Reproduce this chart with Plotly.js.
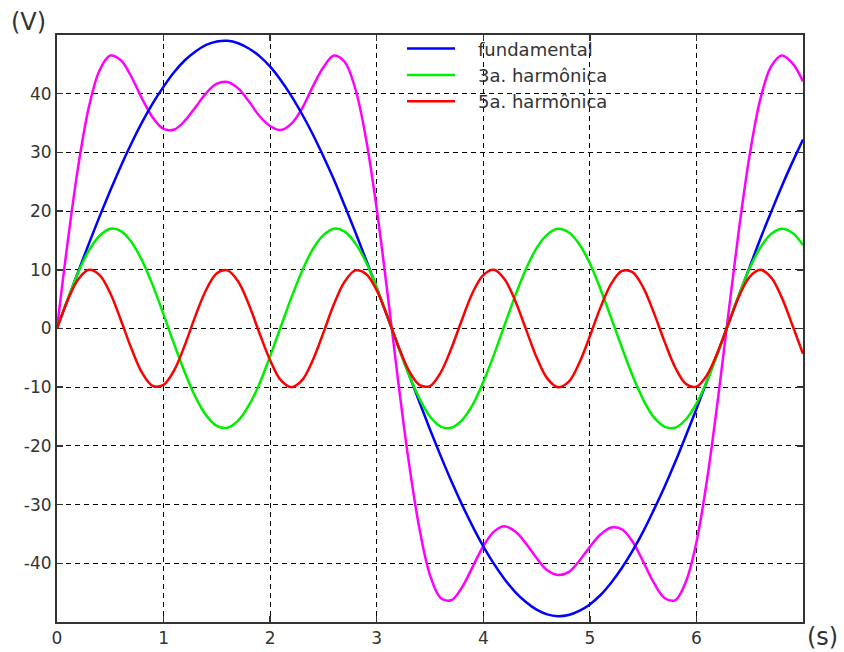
<!DOCTYPE html>
<html>
<head>
<meta charset="utf-8">
<script src="https://cdn.plot.ly/plotly-3.0.1.min.js"></script>
<style>html,body{margin:0;padding:0;background:#fff;}#chart{width:844px;height:652px;}</style>
</head>
<body>
<div id="chart"></div>
<script>
// time samples (s)
var t = [0.0,0.1,0.2,0.3,0.4,0.5,0.6,0.7,0.8,0.9,1.0,1.1,1.2,1.3,1.4,1.5,1.6,1.7,1.8,1.9,2.0,2.1,2.2,2.3,2.4,2.5,2.6,2.7,2.8,2.9,3.0,3.1,3.2,3.3,3.4,3.5,3.6,3.7,3.8,3.9,4.0,4.1,4.2,4.3,4.4,4.5,4.6,4.7,4.8,4.9,5.0,5.1,5.2,5.3,5.4,5.5,5.6,5.7,5.8,5.9,6.0,6.1,6.2,6.3,6.4,6.5,6.6,6.7,6.8,6.9,7.0];

var fundamental = [0,4.9,9.7,14.5,19.1,23.5,27.7,31.6,35.2,38.4,41.2,43.7,45.7,47.2,48.3,48.9,49.0,48.6,47.7,46.4,44.6,42.3,39.6,36.5,33.1,29.3,25.3,20.9,16.4,11.7,6.9,2.0,-2.9,-7.7,-12.5,-17.2,-21.7,-26.0,-30.0,-33.7,-37.1,-40.1,-42.7,-44.9,-46.6,-47.9,-48.7,-49.0,-48.8,-48.1,-47.0,-45.4,-43.3,-40.8,-37.9,-34.6,-30.9,-27.0,-22.8,-18.3,-13.7,-8.9,-4.1,0.8,5.7,10.5,15.3,19.8,24.2,28.3,32.2];

var harm3 = [0,5.0,9.6,13.3,15.8,17.0,16.6,14.7,11.5,7.3,2.4,-2.7,-7.5,-11.7,-14.8,-16.6,-16.9,-15.7,-13.1,-9.4,-4.7,0.3,5.3,9.8,13.5,15.9,17.0,16.5,14.5,11.3,7.0,2.1,-3.0,-7.8,-11.9,-15.0,-16.7,-16.9,-15.6,-13.0,-9.1,-4.5,0.6,5.6,10.1,13.7,16.0,17.0,16.4,14.4,11.1,6.7,1.8,-3.2,-8.0,-12.1,-15.1,-16.7,-16.9,-15.5,-12.8,-8.9,-4.2,0.9,5.8,10.3,13.8,16.1,17.0,16.3,14.2];

var harm5 = [0,4.8,8.4,10.0,9.1,6.0,1.4,-3.5,-7.6,-9.8,-9.6,-7.1,-2.8,2.2,6.6,9.4,9.9,8.0,4.1,-0.8,-5.4,-8.8,-10.0,-8.8,-5.4,-0.7,4.2,8.0,9.9,9.3,6.5,2.1,-2.9,-7.1,-9.6,-9.8,-7.5,-3.4,1.5,6.1,9.1,10.0,8.4,4.7,-0.1,-4.9,-8.5,-10.0,-9.1,-5.9,-1.3,3.6,7.6,9.8,9.6,7.0,2.7,-2.2,-6.6,-9.4,-9.9,-7.9,-4.0,0.8,5.5,8.8,10.0,8.7,5.3,0.6,-4.3];

var total = [0,14.7,27.7,37.8,44.0,46.5,45.7,42.8,39.1,35.9,34.0,33.9,35.4,37.7,40.1,41.7,42.0,40.9,38.7,36.2,34.5,33.8,34.9,37.5,41.2,44.5,46.5,45.4,40.8,32.3,20.4,6.2,-8.8,-22.6,-34.0,-42.0,-45.9,-46.3,-44.1,-40.6,-37.1,-34.6,-33.7,-34.6,-36.6,-39.1,-41.2,-42.0,-41.5,-39.6,-37.2,-35.1,-33.9,-34.2,-36.3,-39.7,-43.3,-45.9,-46.3,-43.2,-36.4,-25.7,-12.3,2.5,17.0,29.6,39.1,44.6,46.5,45.2,42.1];

var seriesNames = ['fundamental','3a. harmônica','5a. harmônica'];
var xTicks = [0,1,2,3,4,5,6];
var yTicks = [-40,-30,-20,-10,0,10,20,30,40];

var FONT = 'DejaVu Sans, Verdana, sans-serif';
var LW = 2.5;
var GAP = '\u2003'; // visual gap between legend line and label

var traces = [
  {x:t, y:total, mode:'lines', line:{color:'#ff00ff', width:LW, shape:'spline'}, showlegend:false, hoverinfo:'skip'},
  {x:t, y:fundamental, mode:'lines', name:GAP + seriesNames[0], line:{color:'#0000ff', width:LW, shape:'spline'}},
  {x:t, y:harm3, mode:'lines', name:GAP + seriesNames[1], line:{color:'#00ee00', width:LW, shape:'spline'}},
  {x:t, y:harm5, mode:'lines', name:GAP + seriesNames[2], line:{color:'#ff0000', width:LW, shape:'spline'}}
];

var axisCommon = {
  showline:true, linecolor:'#333', linewidth:2, mirror:'ticks',
  ticks:'inside', ticklen:6, tickcolor:'#333', tickwidth:1.5,
  showgrid:true, gridcolor:'#000', gridwidth:1, griddash:'5px,4px',
  zeroline:false, tickfont:{family:FONT, size:17, color:'#333'}
};

var layout = {
  width:844, height:652,
  margin:{l:57, r:41, t:35, b:30},
  paper_bgcolor:'#fff', plot_bgcolor:'#fff',
  font:{family:FONT, color:'#333'},
  xaxis: Object.assign({}, axisCommon, {range:[0,7], tickvals:xTicks, ticktext:xTicks.map(String), ticklabelstandoff:0}),
  yaxis: Object.assign({}, axisCommon, {range:[-50,50], tickvals:yTicks, ticktext:yTicks.map(String), ticklabelstandoff:0}),
  legend:{x:0.4625, y:1.008, xanchor:'left', yanchor:'top', bgcolor:'rgba(255,255,255,0)', borderwidth:0,
          font:{family:FONT, size:18, color:'#333'}, traceorder:'normal', itemwidth:48},
  shapes:[
    // white backing behind the legend, hides grid lines only
    {type:'rect', layer:'between', xref:'paper', yref:'paper', x0:0.463, x1:0.757, y0:0.862, y1:1,
     fillcolor:'#fff', line:{width:0}}
  ],
  annotations:[
    {text:'(V)', xref:'paper', yref:'paper', x:-0.038, y:1.022, xanchor:'center', yanchor:'middle', showarrow:false, font:{family:FONT, size:24, color:'#333'}},
    {text:'(s)', xref:'paper', yref:'paper', x:1.0265, y:-0.025, xanchor:'center', yanchor:'middle', showarrow:false, font:{family:FONT, size:24, color:'#333'}}
  ]
};

Plotly.newPlot('chart', traces, layout, {displayModeBar:false, staticPlot:true});
</script>
</body>
</html>
